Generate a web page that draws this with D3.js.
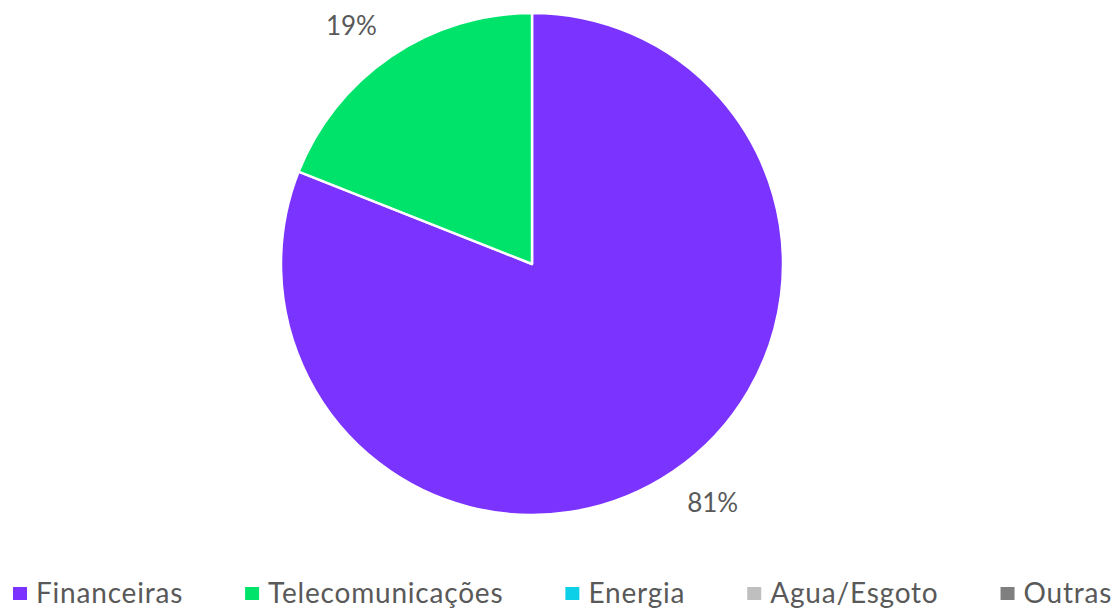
<!DOCTYPE html>
<html>
<head>
<meta charset="utf-8">
<script src="https://cdn.jsdelivr.net/npm/d3@7"></script>
<style>
  body { margin: 0; background: #fff; }
  svg { display: block; font-family: Lato, "Open Sans", sans-serif; }
</style>
</head>
<body>
<svg id="chart"></svg>
<script>
const categories = ["Financeiras", "Telecomunicações", "Energia", "Agua/Esgoto", "Outras"];
const values = [81, 19, 0, 0, 0];
const colors = ["#7B33FF", "#00E36A", "#0BD0E8", "#BFBFBF", "#7F7F7F"];

const width = 1117, height = 608;
const cx = 532, cy = 264, radius = 251;

const svg = d3.select("#chart")
	.attr("width", width)
	.attr("height", height);

const color = d3.scaleOrdinal().domain(categories).range(colors);

const arcs = d3.pie().sort(null).value(d => d.value)(
	categories.map((c, i) => ({ name: c, value: values[i] }))
);
const shown = arcs.filter(d => d.value > 0);

const g = svg.append("g")
	.attr("transform", "translate(" + cx + "," + cy + ")");

g.selectAll("path")
	.data(shown)
	.join("path")
		.attr("fill", d => color(d.data.name))
		.attr("stroke", "white")
		.attr("stroke-width", 2.5)
		.attr("stroke-linejoin", "round")
		.attr("d", d3.arc().innerRadius(0).outerRadius(radius));

// percent labels: anchor just outside the slice, box pushed away from it
const labelR = 276;
const total = d3.sum(values);
g.selectAll("text.pct")
	.data(shown)
	.join("text")
		.attr("class", "pct")
		.attr("text-anchor", "middle")
		.style("font-size", "26px")
		.style("fill", "#595959")
		.text(d => Math.round(100 * d.value / total) + "%")
		.each(function(d) {
			const a = (d.startAngle + d.endAngle) / 2;
			const box = this.getBBox();
			const ax = Math.sin(a) * labelR + Math.sign(Math.sin(a)) * box.width / 2;
			const ay = -Math.cos(a) * labelR - Math.sign(Math.cos(a)) * 10;
			// digits are ~0.72em tall, so centre them on ay
			d3.select(this).attr("x", ax).attr("y", ay + 26 * 0.36);
		});

// legend, flowed left to right
const legend = svg.append("g").attr("class", "legend");
let x = 13;
const legendBase = 603;
categories.forEach((c, i) => {
	legend.append("rect")
		.attr("x", x)
		.attr("y", 587)
		.attr("width", 14)
		.attr("height", 13)
		.attr("fill", color(c));
	const t = legend.append("text")
		.attr("x", x + 23)
		.attr("y", legendBase)
		.style("font-size", "28px")
		.style("letter-spacing", "0.8px")
		.style("fill", "#595959")
		.text(c);
	x += 23 + t.node().getComputedTextLength() + 62;
});
</script>
</body>
</html>
